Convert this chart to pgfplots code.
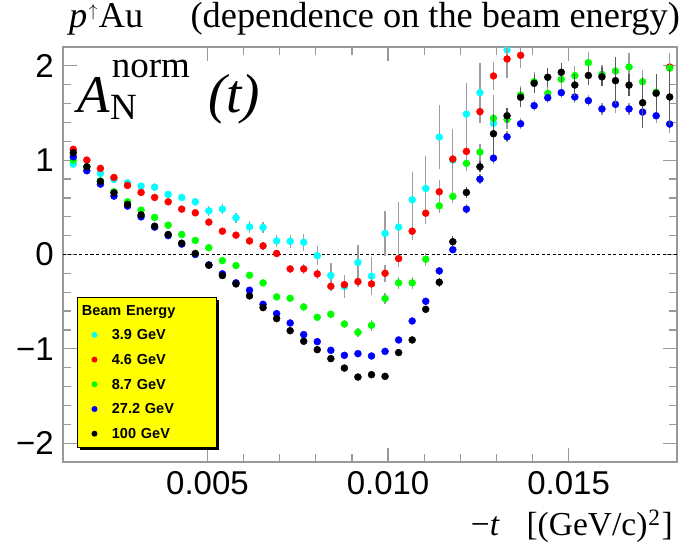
\documentclass[border=0pt]{standalone}
\usepackage{pgfplots}
\pgfplotsset{compat=1.18}
\usepackage{pgfplotstable}
\usepackage{fontspec}
\setmainfont{Liberation Serif}
\setsansfont{Liberation Sans}

\definecolor{mcyan}{rgb}{0,1,1}
\definecolor{mred}{rgb}{1,0,0}
\definecolor{mgreen}{rgb}{0,1,0}
\definecolor{mblue}{rgb}{0,0,1}
\definecolor{errgray}{rgb}{0.62,0.62,0.62}
\definecolor{errdark}{rgb}{0.35,0.35,0.35}
\definecolor{framegray}{rgb}{0.6,0.6,0.6}
\definecolor{legyellow}{rgb}{1,1,0}

\pgfplotstableread{
x c ce r re g ge b be k ke
0.001285 0.959 0.03 1.115 0.03 1.001 0.03 1.036 0.03 1.079 0.03
0.001660 0.930 0.03 1.001 0.03 0.930 0.03 0.888 0.03 0.930 0.03
0.002036 0.860 0.03 0.913 0.03 0.780 0.03 0.746 0.03 0.775 0.03
0.002411 0.796 0.03 0.817 0.03 0.665 0.03 0.619 0.03 0.654 0.03
0.002786 0.760 0.03 0.732 0.03 0.559 0.03 0.513 0.03 0.531 0.03
0.003162 0.725 0.03 0.658 0.03 0.470 0.03 0.399 0.03 0.420 0.03
0.003537 0.714 0.04 0.605 0.03 0.393 0.03 0.290 0.03 0.300 0.03
0.003912 0.637 0.04 0.559 0.03 0.311 0.03 0.200 0.03 0.212 0.03
0.004287 0.605 0.04 0.481 0.03 0.212 0.03 0.110 0.03 0.120 0.03
0.004663 0.559 0.04 0.442 0.03 0.149 0.03 0.000 0.03 0.011 0.03
0.005038 0.463 0.05 0.343 0.03 0.072 0.03 -0.110 0.03 -0.114 0.03
0.005413 0.481 0.05 0.247 0.03 -0.065 0.03 -0.205 0.03 -0.223 0.03
0.005789 0.389 0.05 0.205 0.03 -0.117 0.03 -0.300 0.03 -0.312 0.03
0.006164 0.293 0.06 0.144 0.04 -0.220 0.03 -0.379 0.03 -0.439 0.03
0.006539 0.287 0.06 0.091 0.04 -0.301 0.03 -0.528 0.03 -0.563 0.03
0.006915 0.144 0.06 0.011 0.04 -0.450 0.03 -0.627 0.03 -0.680 0.03
0.007290 0.140 0.07 -0.153 0.04 -0.464 0.03 -0.726 0.03 -0.808 0.03
0.007665 0.130 0.09 -0.153 0.05 -0.556 0.04 -0.849 0.03 -0.920 0.03
0.008040 -0.013 0.10 -0.206 0.05 -0.666 0.04 -0.924 0.03 -1.009 0.03
0.008416 -0.223 0.13 -0.337 0.05 -0.634 0.04 -1.016 0.03 -1.104 0.03
0.008791 -0.340 0.12 -0.319 0.06 -0.737 0.04 -1.069 0.03 -1.204 0.03
0.009166 -0.085 0.19 -0.287 0.06 -0.825 0.05 -1.051 0.03 -1.299 0.03
0.009542 -0.230 0.20 -0.312 0.08 -0.751 0.06 -1.076 0.03 -1.274 0.03
0.009917 0.223 0.24 -0.199 0.09 -0.467 0.06 -1.027 0.03 -1.292 0.03
0.010292 0.290 0.27 -0.043 0.09 -0.301 0.06 -0.906 0.03 -1.040 0.03
0.010668 0.580 0.29 0.247 0.09 -0.301 0.06 -0.705 0.03 -0.906 0.03
0.011043 0.700 0.34 0.438 0.11 -0.050 0.07 -0.496 0.04 -0.581 0.04
0.011418 1.245 0.34 0.665 0.12 0.516 0.08 -0.174 0.04 -0.294 0.05
0.011793 1.000 0.33 1.012 0.12 0.616 0.07 0.051 0.04 0.136 0.06
0.012169 1.489 0.33 1.093 0.15 0.966 0.08 0.481 0.05 0.658 0.06
0.012544 1.716 0.31 1.514 0.12 1.086 0.09 0.799 0.05 0.930 0.06
0.012919 1.391 0.30 1.893 0.15 1.444 0.10 1.022 0.06 1.280 0.21
0.013295 2.169 0.30 2.073 0.17 1.433 0.10 1.248 0.06 1.471 0.08
0.013670 nan nan 2.112 0.13 1.691 0.10 1.386 0.06 1.667 0.10
0.014045 nan nan nan nan 1.832 0.10 1.578 0.06 1.815 0.10
0.014421 nan nan nan nan 1.709 0.10 1.662 0.06 1.879 0.10
0.014796 nan nan nan nan 1.858 0.10 1.716 0.06 1.932 0.10
0.015171 nan nan nan nan 1.896 0.10 1.670 0.06 1.797 0.12
0.015546 nan nan nan nan 2.034 0.11 1.631 0.06 1.898 0.10
0.015922 nan nan nan nan 1.910 0.10 1.543 0.06 1.884 0.10
0.016297 nan nan nan nan 1.946 0.12 1.592 0.09 1.843 0.25
0.016672 nan nan nan nan 1.988 0.15 1.543 0.06 1.796 0.12
0.017048 nan nan nan nan 1.832 0.12 1.510 0.07 1.609 0.27
0.017423 nan nan nan nan 1.720 0.10 1.471 0.08 1.709 0.20
0.017798 nan nan 1.988 0.15 1.975 0.12 1.383 0.10 1.670 0.30
}\data

\pgfplotsset{
  pts/.style 2 args={only marks, mark=*, mark size=3.5pt, forget plot,
    mark options={draw=none, fill=#1}, color=#1,
    error bars/.cd, y dir=both, y explicit, error mark=none,
    error bar style={color=#2, line width=1.3pt}},
  legdot/.style={legend image code/.code={%
    \path[draw=none,fill=none] (0pt,0pt) rectangle (17pt,6pt);
    \fill[#1, draw=none] (8.5pt,5pt) circle (3pt);}},
}

\begin{document}
\begin{tikzpicture}
\begin{axis}[name=ax,
  width=614pt, height=415pt, scale only axis,
  xmin=0.001, xmax=0.018, ymin=-2.2, ymax=2.2,
  xtick={0.005,0.01,0.015}, xticklabels={0.005,0.010,0.015},
  scaled x ticks=false,
  ytick={-2,-1,0,1,2}, yticklabels={−2,−1,0,1,2},
  minor x tick num=4, minor y tick num=4,
  tick align=inside, xtick pos=both, ytick pos=both,
  major tick length=14pt, minor tick length=8pt,
  axis line style={draw=framegray, line width=1.5pt},
  every tick/.style={framegray, line width=1.2pt},
  tick label style={font=\fontsize{33}{33}\selectfont\sffamily},
  xticklabel style={inner sep=0pt, yshift=-9pt, anchor=north},
  yticklabel style={inner sep=0pt, xshift=-9pt, anchor=east},
  clip mode=individual, clip marker paths=true,
  unbounded coords=discard,
  legend style={at={(rel axis cs:0.0228,0.3976)}, anchor=north west,
    fill=none, draw=none,
    font=\fontsize{14.5}{17}\selectfont\sffamily\bfseries,
    inner xsep=8.8pt, inner ysep=7pt,
    row sep=10.7pt, column sep=8.9pt,
    nodes={inner sep=0pt, text height=11pt, text depth=3pt, text width=95pt},
    cells={anchor=base west}},
]
\draw[black, dash pattern=on 3pt off 2.5pt, line width=0.9pt]
  (axis cs:0.001,0) -- (axis cs:0.018,0);

\addplot[pts={mcyan}{errgray}] table[x=x, y=c, y error=ce]{\data};
\addplot[pts={mred}{errgray}] table[x=x, y=r, y error=re]{\data};
\addplot[pts={mgreen}{errgray}] table[x=x, y=g, y error=ge]{\data};
\addplot[pts={mblue}{errgray}] table[x=x, y=b, y error=be]{\data};
\addplot[pts={black}{errdark}] table[x=x, y=k, y error=ke]{\data};

% legend box with shadow
\fill[black, shift={(3pt,-3pt)}] (rel axis cs:0.0228,0.0361) rectangle (rel axis cs:0.2492,0.3976);
\filldraw[fill=legyellow, draw=black, line width=0.8pt] (rel axis cs:0.0228,0.0361) rectangle (rel axis cs:0.2492,0.3976);

\addlegendimage{empty legend}
\addlegendentry{\hspace*{-30pt}Beam Energy}
\addlegendimage{legdot=mcyan}
\addlegendentry{3.9 GeV}
\addlegendimage{legdot=mred}
\addlegendentry{4.6 GeV}
\addlegendimage{legdot=mgreen}
\addlegendentry{8.7 GeV}
\addlegendimage{legdot=mblue}
\addlegendentry{27.2 GeV}
\addlegendimage{legdot=black}
\addlegendentry{100 GeV}
\end{axis}

% title
\node[anchor=base west, inner sep=0pt, font=\fontsize{36.3}{36.3}\selectfont]
  at ([xshift=6pt,yshift=19.4pt]ax.north west)
  {\textit{p}\kern1.5pt\raisebox{11pt}{\fontsize{17}{17}\selectfont$\uparrow$}\kern1.5pt Au};
\node[anchor=base east, inner sep=0pt, font=\fontsize{36.3}{36.3}\selectfont]
  at ([xshift=3pt,yshift=19.4pt]ax.north east) {(dependence on the beam energy)};
% x label
\node[anchor=base west, inner sep=0pt, font=\fontsize{33.5}{33.5}\selectfont]
  at ([xshift=-206.3pt,yshift=-73pt]ax.south east) {−\textit{t}};
\node[anchor=base east, inner sep=0pt, font=\fontsize{33.5}{33.5}\selectfont]
  at ([xshift=-4pt,yshift=-73pt]ax.south east) {[(GeV/c)\kern1pt\textsuperscript{2}\kern1pt]};
% A_N^norm (t)
\node[anchor=base west, inner sep=0pt, font=\fontsize{53}{53}\selectfont\itshape]
  at ([xshift=14pt,yshift=-66pt]ax.north west) {A};
\node[anchor=base west, inner sep=0pt, font=\fontsize{37}{37}\selectfont]
  at ([xshift=48.7pt,yshift=-31pt]ax.north west) {norm};
\node[anchor=base west, inner sep=0pt, font=\fontsize{37}{37}\selectfont]
  at ([xshift=47pt,yshift=-73pt]ax.north west) {N};
\node[anchor=base west, inner sep=0pt, font=\fontsize{55}{55}\selectfont\itshape]
  at ([xshift=145pt,yshift=-66pt]ax.north west) {(t)};

\pgfresetboundingbox
\path ([xshift=-63pt,yshift=-84pt]ax.south west) rectangle ([xshift=13pt,yshift=47pt]ax.north east);
\end{tikzpicture}
\end{document}
